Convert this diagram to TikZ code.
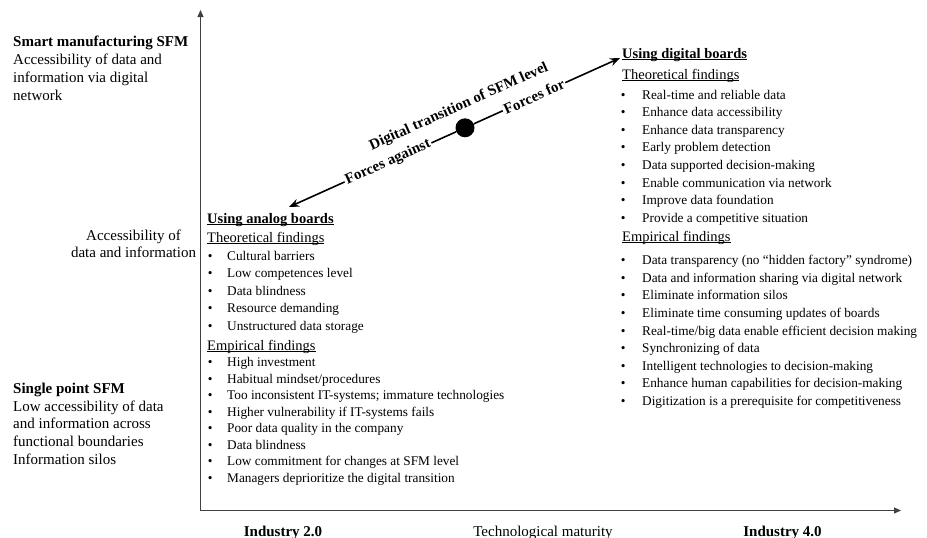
\documentclass[tikz,border=0pt]{standalone}
\usepackage{fontspec}
\setmainfont{Liberation Serif}
\usetikzlibrary{arrows.meta}
\newsavebox{\hdrbox}
% underline drawn slightly below the baseline, through the descenders
\newcommand{\hdrline}[1]{\sbox{\hdrbox}{#1}\rlap{\rule[-2.2pt]{\wd\hdrbox}{0.8pt}}\usebox{\hdrbox}}
\begin{document}
\begin{tikzpicture}[x=1pt,y=-1pt,
  lbl/.style={inner sep=0pt, anchor=base west, font=\fontsize{15}{18}\selectfont},
  lblbold/.style={inner sep=0pt, anchor=base west, font=\fontsize{15}{18}\selectfont\bfseries},
  lblmid/.style={inner sep=0pt, anchor=base, font=\fontsize{15}{18}\selectfont},
  hd/.style={inner sep=0pt, anchor=base west, font=\fontsize{14.5}{17}\selectfont},
  itm/.style={inner sep=0pt, anchor=base west, font=\fontsize{13.3}{16}\selectfont},
  axisline/.style={draw=black!75, line width=0.9pt, -{Triangle[length=7pt,width=6pt]}},
  forceline/.style={line width=1.6pt},
  forcearrow/.style={forceline, -{Stealth[length=10pt,width=8pt]}},
  flabel/.style={inner sep=1.5pt, font=\fontsize{15}{18}\selectfont\bfseries, rotate=24.2},
]
\useasboundingbox (0,0) rectangle (927,538);

% axes
\coordinate (origin) at (200.5,510.5);
\coordinate (ytip) at (200.5,10);
\coordinate (xtip) at (901,510.5);
\draw[axisline] (origin) -- (ytip);
\draw[axisline] (origin) -- (xtip);

% vertical axis labels
\node[lblbold] (smart) at (13,46) {Smart manufacturing SFM};
\node[lbl] (smart1) at (13,64) {Accessibility of data and};
\node[lbl] (smart2) at (13,82) {information via digital};
\node[lbl] (smart3) at (13,100) {network};
\node[lblmid] (acc1) at (133.5,240) {Accessibility of};
\node[lblmid] (acc2) at (133.5,257.5) {data and information};
\node[lblbold] (single) at (13,393) {Single point SFM};
\node[lbl] (single1) at (13,411) {Low accessibility of data};
\node[lbl] (single2) at (13,428.5) {and information across};
\node[lbl] (single3) at (13,446) {functional boundaries};
\node[lbl] (single4) at (13,464) {Information silos};

% horizontal axis labels
\node[lblmid, font=\fontsize{15}{18}\selectfont\bfseries] (ind2) at (283,536) {Industry 2.0};
\node[lblmid] (maturity) at (543,536) {Technological maturity};
\node[lblmid, font=\fontsize{15}{18}\selectfont\bfseries] (ind4) at (782.5,536) {Industry 4.0};

% transition arrow
\coordinate (lowtip) at (289,207);
\coordinate (hightip) at (620,58);
\node[circle, fill=black, minimum size=19pt, inner sep=0pt] (dot) at (465,127.8) {};
\node[flabel] (against) at (388,162.4) {Forces against};
\node[flabel] (forcesfor) at (534,96.7) {Forces for};
\node[flabel, inner sep=0pt] (transition) at (459,107) {Digital transition of SFM level};
\draw[forcearrow] (against) -- (lowtip);
\draw[forceline] (against) -- (dot);
\draw[forceline] (dot) -- (forcesfor);
\draw[forcearrow] (forcesfor) -- (hightip);

% analog boards
\node[hd, font=\fontsize{14.5}{17}\selectfont\bfseries] (analog) at (207,223) {\hdrline{Using analog boards}};
\node[hd] (atheo) at (207,242) {\hdrline{Theoretical findings}};
\foreach \t [count=\i from 0] in {Cultural barriers, Low competences level, Data blindness, Resource demanding, Unstructured data storage}
  \node[itm] (at\i) at (207.7,260+17.5*\i) {\makebox[19.3pt][l]{\textbullet}\t};
\node[hd] (aemp) at (207,350) {\hdrline{Empirical findings}};
\foreach \t [count=\i from 0] in {High investment, Habitual mindset/procedures, Too inconsistent IT-systems; immature technologies, Higher vulnerability if IT-systems fails, Poor data quality in the company, Data blindness, Low commitment for changes at SFM level, Managers deprioritize the digital transition}
  \node[itm] (ae\i) at (207.7,366.7+16.5*\i) {\makebox[19.3pt][l]{\textbullet}\t};

% digital boards
\node[hd, font=\fontsize{14.5}{17}\selectfont\bfseries] (digital) at (622,58) {\hdrline{Using digital boards}};
\node[hd] (dtheo) at (622,79) {\hdrline{Theoretical findings}};
\foreach \t [count=\i from 0] in {Real-time and reliable data, Enhance data accessibility, Enhance data transparency, Early problem detection, Data supported decision-making, Enable communication via network, Improve data foundation, Provide a competitive situation}
  \node[itm] (dt\i) at (620.7,99+17.6*\i) {\makebox[21.3pt][l]{\textbullet}\t};
\node[hd] (demp) at (622,241) {\hdrline{Empirical findings}};
\foreach \t [count=\i from 0] in {Data transparency (no “hidden factory” syndrome), Data and information sharing via digital network, Eliminate information silos, Eliminate time consuming updates of boards, Real-time/big data enable efficient decision making, Synchronizing of data, Intelligent technologies to decision-making, Enhance human capabilities for decision-making, Digitization is a prerequisite for competitiveness}
  \node[itm] (de\i) at (620.7,264.7+17.6*\i) {\makebox[21.3pt][l]{\textbullet}\t};
\end{tikzpicture}
\end{document}
